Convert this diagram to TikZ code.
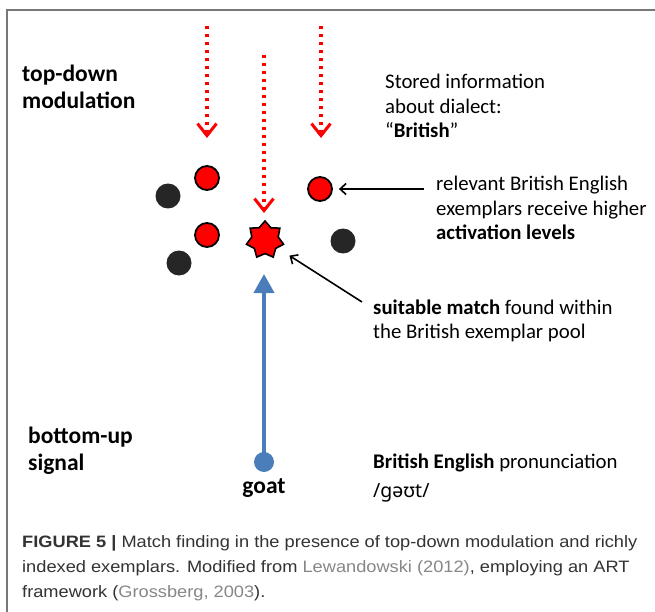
\documentclass[tikz,border=0pt]{standalone}
\usepackage{fontspec}
\setmainfont{Carlito}
\newfontfamily\capfont[FakeStretch=1.105]{Liberation Sans}
\newfontfamily\ipafont{Noto Sans}
\usetikzlibrary{arrows.meta,shapes.geometric}
\definecolor{actred}{RGB}{255,0,0}
\definecolor{exdarkc}{RGB}{38,38,38}
\definecolor{signalblue}{RGB}{74,126,187}
\definecolor{framegray}{RGB}{120,120,120}
\definecolor{captext}{RGB}{51,51,51}
\definecolor{reflink}{RGB}{135,135,135}
\tikzset{
  exred/.style={circle, draw=black, line width=1.8pt, fill=actred, minimum size=24pt, inner sep=0pt},
  exdark/.style={circle, fill=exdarkc, minimum size=25pt, inner sep=0pt},
  matchstar/.style={star, star points=7, star point ratio=1.4, draw=black, line width=1.6pt,
    fill=actred, minimum size=38pt, inner sep=0pt},
  goatdot/.style={circle, fill=signalblue, minimum size=20pt, inner sep=0pt},
  topdown/.style={draw=actred, line width=3.2pt, dash pattern=on 3.2pt off 4.8pt,
    -{Straight Barb[length=12pt, width=19pt, line width=3pt]}},
  bottomup/.style={draw=signalblue, line width=4pt, -{Triangle[length=19pt, width=20pt]}},
  pointer/.style={draw=black, line width=1.6pt, -{Straight Barb[length=6pt, width=11pt, line width=1.6pt]}},
  % multi-line blocks are placed by the baseline of their last line
  lab/.style={anchor=base west, inner sep=0pt, align=left, text=black,
    font=\fontsize{20.8}{24.5}\selectfont},
  boldlab/.style={anchor=base west, inner sep=0pt, align=left, text=black,
    font=\fontsize{23.5}{27}\selectfont\bfseries},
  wordlab/.style={anchor=base, inner sep=0pt, text=black,
    font=\fontsize{23.5}{27}\selectfont\bfseries},
  caption/.style={anchor=base west, inner sep=0pt, align=left, text=captext,
    font=\capfont\fontsize{16.5}{25}\selectfont},
}
\begin{document}
\begin{tikzpicture}[x=1pt, y=-1pt]
\useasboundingbox (0,0) rectangle (655,612);
\fill[white] (0,0) rectangle (655,612);
% open frame: top and left rules
\fill[framegray] (5.5,9) rectangle (655,11.2);
\fill[framegray] (5.5,9) rectangle (7.7,612);

% exemplars
\node[exred] (r1) at (207,178) {};
\node[exred] (r2) at (207,235) {};
\node[exred] (r3) at (320,189) {};
\node[exdark] (d1) at (168,196) {};
\node[exdark] (d2) at (179,263) {};
\node[exdark] (d3) at (343,241) {};
\node[matchstar] (m) at (265,240) {};

% top-down modulation
\coordinate (tl0) at (207,26);  \coordinate (tl1) at (207,138);
\coordinate (tm0) at (264,55);  \coordinate (tm1) at (264,213);
\coordinate (tr0) at (321,26);  \coordinate (tr1) at (321,138);
\draw[topdown] (tl0) -- (tl1);
\draw[topdown] (tm0) -- (tm1);
\draw[topdown] (tr0) -- (tr1);

% bottom-up signal
\node[goatdot] (g) at (264,462) {};
\coordinate (gtip) at (264,274);
\draw[bottomup] (g.center) -- (gtip);
\node[wordlab] (goat) at (264,493) {goat};

% labels
\node[boldlab] (tdl) at (22,109) {top-down\\modulation};
\node[boldlab] (bul) at (28,470) {bottom-up\\signal};
\node[lab] (stored) at (385,138) {Stored information\\about dialect:\\“\textbf{British}”};
\node[lab] (relev) at (436,240) {relevant British English\\exemplars receive higher\\\textbf{activation levels}};
\node[lab, font=\fontsize{20.8}{24}\selectfont] (suit) at (373,338) {\textbf{suitable match} found within\\the British exemplar pool};
\node[lab] (pron) at (373,468) {\textbf{British English} pronunciation};
\node[lab, font=\ipafont\fontsize{19.5}{24}\selectfont] (ipa) at (373,497) {/gəʊt/};

% pointers
\coordinate (p1) at (424,189);
\draw[pointer, shorten >=6pt] (p1) -- (r3.east);
\coordinate (p2) at (362,302);
\draw[pointer, shorten >=29pt] (p2) -- (m.center);

% caption
\node[caption] (cap) at (22,597) {\textbf{FIGURE 5 |} Match finding in the presence of top-down modulation and richly\\
indexed exemplars. Modified from \textcolor{reflink}{Lewandowski (2012)}, employing an ART\\
framework (\textcolor{reflink}{Grossberg, 2003}).};
\end{tikzpicture}
\end{document}
